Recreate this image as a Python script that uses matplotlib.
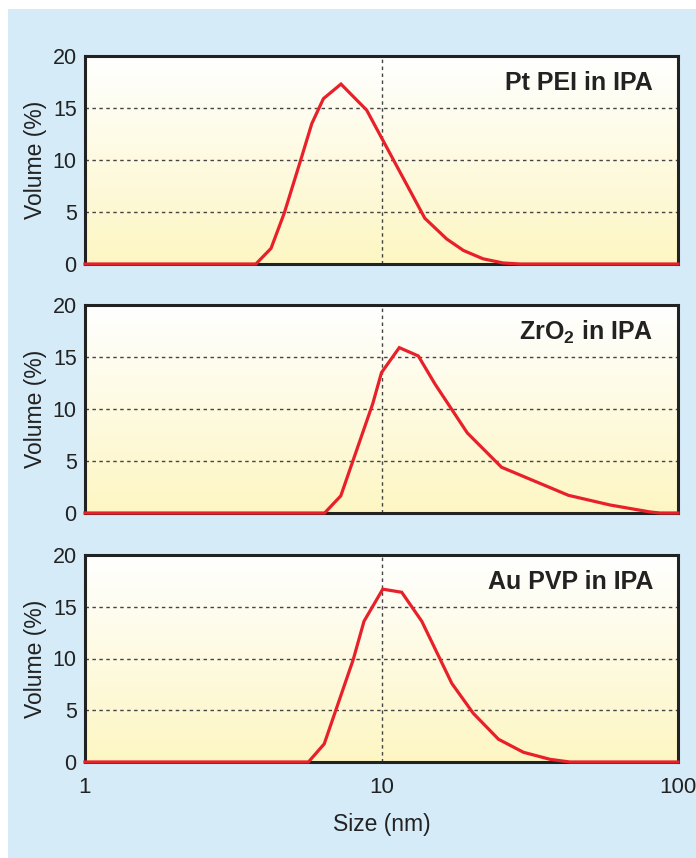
import numpy as np
import matplotlib
matplotlib.use("Agg")
import matplotlib.pyplot as plt
from matplotlib.colors import LinearSegmentedColormap
from matplotlib.patches import Rectangle

plt.rcParams['font.family'] = ['Liberation Sans', 'DejaVu Sans']

# Particle size distributions (size in nm, volume in %)
pt_size = [1, 3.77, 4.24, 4.70, 5.38, 5.82, 6.37, 7.30, 8.91, 14.0, 16.6, 18.9, 22.0, 25.7, 29.3, 100]
pt_vol = [0, 0, 1.5, 4.9, 10.3, 13.5, 15.9, 17.3, 14.8, 4.4, 2.4, 1.3, 0.5, 0.1, 0, 0]

zr_size = [1, 6.43, 7.29, 9.34, 10.0, 11.48, 13.31, 15.15, 19.47, 25.4, 42.7, 59.0, 80.5, 87, 100]
zr_vol = [0, 0, 1.65, 10.5, 13.5, 15.9, 15.1, 12.4, 7.7, 4.4, 1.7, 0.77, 0.1, 0, 0]

au_size = [1, 5.67, 6.41, 8.03, 8.73, 10.1, 11.7, 13.67, 17.26, 20.4, 24.8, 30.1, 37.0, 43.2, 100]
au_vol = [0, 0, 1.75, 9.9, 13.6, 16.7, 16.4, 13.6, 7.6, 4.7, 2.2, 0.94, 0.26, 0, 0]

titles = ["Pt PEI in IPA", "ZrO$_{\\mathregular{2}}$ in IPA", "Au PVP in IPA"]
series = [(pt_size, pt_vol), (zr_size, zr_vol), (au_size, au_vol)]
yticks = [0, 5, 10, 15, 20]
xticks = [1, 10, 100]

W, H = 696, 858
fig = plt.figure(figsize=(W / 100, H / 100), dpi=100)
fig.patch.set_facecolor('white')
fig.patches.append(Rectangle((8 / W, 0), 1, (H - 9) / H, transform=fig.transFigure,
                             facecolor='#d5ebf8', edgecolor='none', zorder=-10))

grad = LinearSegmentedColormap.from_list('bg', ['#fdf6c3', '#ffffff'])
tops = [56, 305, 555]
bots = [264, 513, 762]
left, right = 85, 678

for i, ((xs, ys), title) in enumerate(zip(series, titles)):
    ax = fig.add_axes([left / W, 1 - bots[i] / H, (right - left) / W, (bots[i] - tops[i]) / H])
    ax.imshow(np.linspace(0, 1, 256).reshape(-1, 1), cmap=grad, origin='lower',
              extent=[0, 1, 0, 1], transform=ax.transAxes, aspect='auto', zorder=0)
    ax.set_xscale('log')
    ax.set_xlim(1, 100)
    ax.set_ylim(0, 20)
    for v in [5, 10, 15]:
        ax.axhline(v, color='#444444', lw=1.0, ls=(0, (2.5, 2.5)), zorder=1)
    ax.axvline(10, color='#444444', lw=1.0, ls=(0, (2.5, 2.5)), zorder=1)
    ax.plot(xs, ys, color='#e8202a', lw=2.3, zorder=3, clip_on=False,
            solid_joinstyle='miter')
    for s in ax.spines.values():
        s.set_linewidth(2.2)
        s.set_color('#222222')
        s.set_zorder(2)
    ax.set_yticks(yticks)
    ax.set_yticklabels([str(t) for t in yticks], fontsize=15.5, color='#222222')
    ax.tick_params(axis='both', length=0, pad=6)
    ax.minorticks_off()
    ax.set_ylabel("Volume (%)", fontsize=16.5, color='#222222')
    ax.yaxis.set_label_coords(-0.064, 0.5)
    ax.text(0.958, 0.87, title, transform=ax.transAxes, ha='right', va='center',
            fontsize=18, fontweight='bold', color='#222222', zorder=4)
    if i == 2:
        ax.set_xticks(xticks)
        ax.set_xticklabels([str(t) for t in xticks], fontsize=16, color='#222222')
        ax.tick_params(axis='x', pad=11)
        ax.set_xlabel("Size (nm)", fontsize=16.5, color='#222222')
        ax.xaxis.set_label_coords(0.5, -0.245)
    else:
        ax.set_xticks(xticks)
        ax.set_xticklabels([])

fig.savefig("out.png", dpi=100)
